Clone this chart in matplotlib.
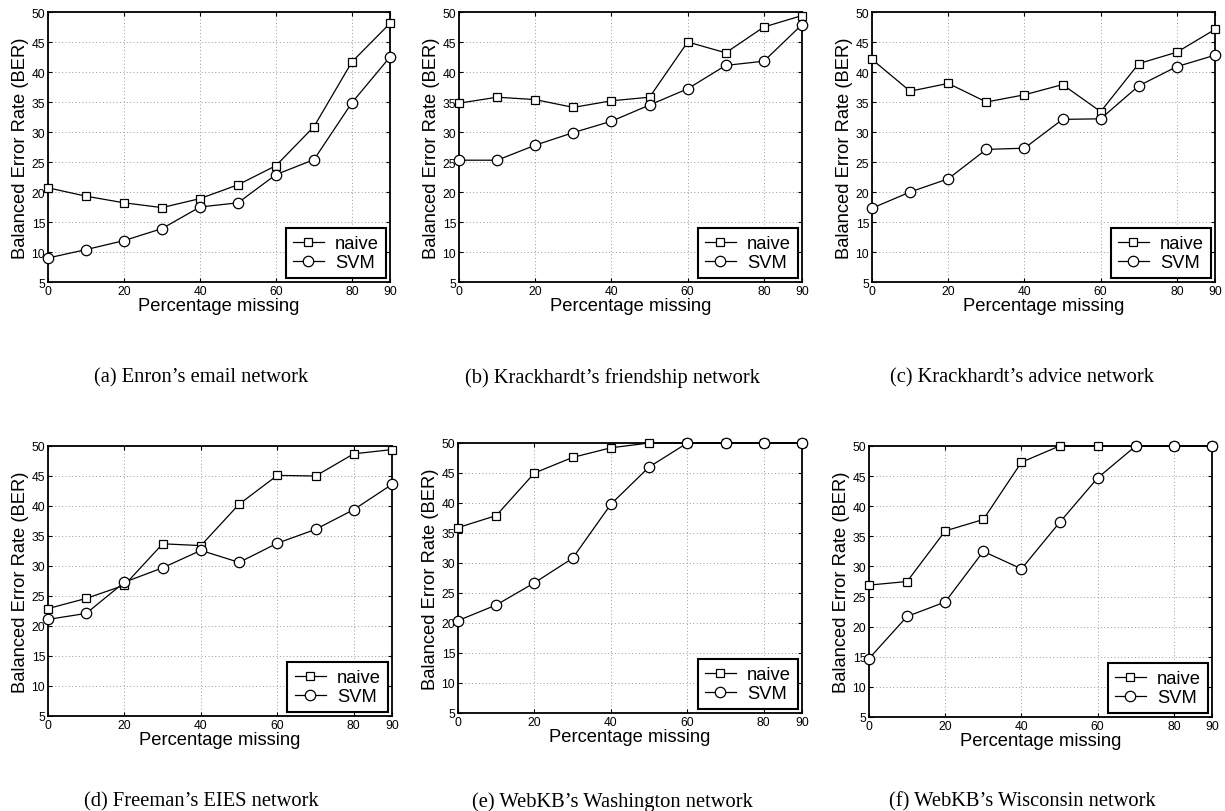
import matplotlib
matplotlib.use("Agg")
import matplotlib.pyplot as plt

x_pct = [0, 10, 20, 30, 40, 50, 60, 70, 80, 90]

naive_a = [20.7, 19.3, 18.2, 17.4, 18.9, 21.2, 24.4, 30.9, 41.7, 48.1]
svm_a   = [9.0, 10.4, 11.9, 13.9, 17.5, 18.2, 22.9, 25.4, 34.9, 42.5]
naive_b = [34.8, 35.8, 35.4, 34.1, 35.2, 35.8, 45.0, 43.2, 47.5, 49.4]
svm_b   = [25.3, 25.3, 27.8, 29.9, 31.8, 34.5, 37.2, 41.1, 41.8, 47.9]
naive_c = [42.1, 36.8, 38.1, 35.0, 36.2, 37.9, 33.4, 41.4, 43.3, 47.1]
svm_c   = [17.3, 20.0, 22.2, 27.1, 27.3, 32.1, 32.2, 37.7, 40.9, 42.8]
naive_d = [22.9, 24.6, 26.8, 33.7, 33.4, 40.3, 45.1, 45.0, 48.7, 49.4]
svm_d   = [21.1, 22.1, 27.3, 29.7, 32.6, 30.6, 33.8, 36.1, 39.4, 43.6]
naive_e = [35.9, 37.9, 45.0, 47.6, 49.2, 50.0, 50.0, 50.0, 50.0, 50.0]
svm_e   = [20.4, 23.0, 26.7, 30.8, 39.8, 46.0, 50.0, 50.0, 50.0, 50.0]
naive_f = [26.9, 27.5, 35.9, 37.8, 47.3, 50.0, 50.0, 50.0, 50.0, 50.0]
svm_f   = [14.7, 21.7, 24.1, 32.5, 29.6, 37.3, 44.7, 50.0, 50.0, 50.0]

captions = ["(a) Enron\u2019s email network",
            "(b) Krackhardt\u2019s friendship network",
            "(c) Krackhardt\u2019s advice network",
            "(d) Freeman\u2019s EIES network",
            "(e) WebKB\u2019s Washington network",
            "(f) WebKB\u2019s Wisconsin network"]
series = [(naive_a, svm_a), (naive_b, svm_b), (naive_c, svm_c),
          (naive_d, svm_d), (naive_e, svm_e), (naive_f, svm_f)]
x_ticks = [0, 20, 40, 60, 80, 90]
y_ticks = list(range(5, 55, 5))
legend_labels = ["naive", "SVM"]
xlabel = "Percentage missing"
ylabel = "Balanced Error Rate (BER)"

W, H = 1225, 812
fig = plt.figure(figsize=(W / 100, H / 100), dpi=100)
plt.rcParams['font.family'] = ['Liberation Sans', 'DejaVu Sans']

# pixel boxes: left, top, right, bottom
boxes = [(48, 13, 390, 283), (459, 13, 802, 283), (872, 13, 1215, 283),
         (48, 447, 392, 717), (458, 444, 802, 714), (869, 447, 1212, 718)]
cap_pos = [(201, 378), (612, 378), (1022, 378), (201, 802), (612, 802), (1022, 802)]

for i, ((l, t, r, b), (nv, sv)) in enumerate(zip(boxes, series)):
    ax = fig.add_axes([l / W, 1 - b / H, (r - l) / W, (b - t) / H])
    ax.plot(x_pct, nv, color='black', lw=0.9, marker='s', ms=6,
            mfc='white', mec='black', mew=0.9, label=legend_labels[0], clip_on=False, zorder=3)
    ax.plot(x_pct, sv, color='black', lw=0.9, marker='o', ms=7.5,
            mfc='white', mec='black', mew=0.9, label=legend_labels[1], clip_on=False, zorder=3)
    ax.set_xlim(0, 90)
    ax.set_ylim(5, 50)
    ax.set_xticks(x_ticks)
    ax.set_yticks(y_ticks)
    ax.tick_params(direction='in', length=3, width=0.8, labelsize=8.7,
                   top=True, right=True, pad=2)
    ax.grid(True, linestyle=(0, (1, 2.5)), color='#999999', lw=0.7)
    for s in ax.spines.values():
        s.set_linewidth(1.3)
    ax.set_xlabel(xlabel, fontsize=13.2, labelpad=0.5)
    ax.set_ylabel(ylabel, fontsize=13.2, labelpad=2)
    leg = ax.legend(loc='lower right', fontsize=13.2, frameon=True, fancybox=False,
                    edgecolor='black', handlelength=1.7, borderaxespad=0.2,
                    handletextpad=0.6, borderpad=0.4, labelspacing=0.1)
    leg.get_frame().set_linewidth(1.5)
    leg.get_frame().set_alpha(1)
    cx, cy = cap_pos[i]
    fig.text(cx / W, 1 - cy / H, captions[i], ha='center', va='center',
             fontsize=14.8, family=['Liberation Serif', 'DejaVu Serif'])

fig.savefig("out.png", dpi=100)
